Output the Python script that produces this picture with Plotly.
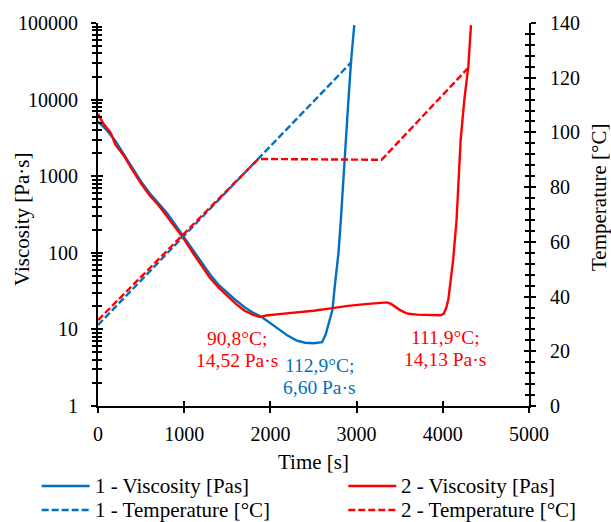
import plotly.graph_objects as go

# viscosity, sample 1
t_visc_1 = [0, 50, 100, 200, 300, 400, 500, 600, 700, 800, 900, 1000, 1100, 1200, 1300, 1400,
            1500, 1600, 1700, 1800, 1900, 2000, 2100, 2200, 2300, 2400, 2500, 2600, 2640, 2680,
            2720, 2745, 2770, 2790, 2820, 2857, 2900, 2935, 2973]
visc_1 = [5200, 4600, 4000, 2900, 1900, 1250, 850, 600, 450, 330, 230, 160, 110, 75, 52, 38,
          30, 24, 19.5, 16.5, 14.5, 12, 10, 8.3, 7.2, 6.7, 6.6, 6.8, 8.5, 12,
          18, 35, 65, 100, 300, 1630, 8000, 31000, 94000]

# viscosity, sample 2
t_visc_2 = [0, 30, 60, 100, 140, 170, 200, 250, 300, 400, 500, 600, 700, 800, 900, 1000, 1100,
            1200, 1300, 1400, 1500, 1600, 1700, 1800, 1880, 1950, 2100, 2300, 2500, 2700, 2900,
            3100, 3250, 3350, 3400, 3450, 3500, 3550, 3600, 3700, 3800, 3900, 3970, 4010, 4040,
            4065, 4090, 4120, 4160, 4207, 4250, 4296, 4327]
visc_2 = [6500, 5500, 4900, 4300, 3800, 3200, 2600, 2200, 1850, 1200, 800, 560, 420, 300, 210, 150, 100,
          68, 47, 35, 27, 21.5, 17.5, 15.5, 14.5, 15.2, 15.8, 16.6, 17.5, 18.8, 20.3,
          21.4, 22, 22.5, 21.5, 19.5, 18, 16.8, 16, 15.6, 15.4, 15.1, 15.3, 16, 19,
          25, 40, 80, 270, 2960, 10000, 27000, 94000]

# temperature programmes
t_temp_1 = [0, 2943]
temp_1 = [29.6, 125.8]
t_temp_2 = [0, 1860, 3290, 4307]
temp_2 = [31.4, 90.3, 90, 124]

# point labels: time [s], log10(viscosity), text lines
label_t = [1618, 2575, 4026]
label_logv = [0.744, 0.39, 0.757]
label_top = ["90,8°C;", "112,9°C;", "111,9°C;"]
label_bottom = ["14,52 Pa·s", "6,60 Pa·s", "14,13 Pa·s"]

series_names = ["1 - Viscosity [Pas]", "2 - Viscosity [Pas]", "1 - Temperature [°C]", "2 - Temperature [°C]"]

BLUE = "#0070C0"
RED = "#FF0000"
FONT = "Liberation Serif, Times New Roman, serif"
DASH = "7px,3px"
label_colors = [RED, BLUE, RED]

fig = go.Figure()
fig.add_trace(go.Scatter(x=t_visc_1, y=visc_1, mode="lines", name=series_names[0],
                         line=dict(color=BLUE, width=2.4)))
fig.add_trace(go.Scatter(x=t_visc_2, y=visc_2, mode="lines", name=series_names[1],
                         line=dict(color=RED, width=2.4)))
fig.add_trace(go.Scatter(x=t_temp_1, y=temp_1, mode="lines", name=series_names[2], yaxis="y2",
                         line=dict(color=BLUE, width=2.4, dash=DASH)))
fig.add_trace(go.Scatter(x=t_temp_2, y=temp_2, mode="lines", name=series_names[3], yaxis="y2",
                         line=dict(color=RED, width=2.4, dash=DASH)))
# empty traces so the inner-tick axes get drawn (crossing ticks)
fig.add_trace(go.Scatter(x=[], y=[], xaxis="x2", yaxis="y3", showlegend=False))
fig.add_trace(go.Scatter(x=[], y=[], xaxis="x2", yaxis="y4", showlegend=False))

for t, lv, top, bot, col in zip(label_t, label_logv, label_top, label_bottom, label_colors):
    fig.add_annotation(x=t, y=lv, text=top, showarrow=False, yshift=11,
                       font=dict(color=col, size=19.5, family=FONT))
    fig.add_annotation(x=t, y=lv, text=bot, showarrow=False, yshift=-11,
                       font=dict(color=col, size=19.5, family=FONT))

# axis titles (pixel placement, plot area is x 98..529, y 23..406)
W, H = 611, 522
title_kw = dict(xref="paper", yref="paper", showarrow=False, xanchor="center", yanchor="middle",
                font=dict(size=21))
fig.add_annotation(x=0.5, y=(406 - 462) / 383, text="Time [s]", **title_kw)
fig.add_annotation(x=(22 - 98) / 431, y=(406 - 220) / 383, text="Viscosity [Pa·s]",
                   textangle=-90, **title_kw)
fig.add_annotation(x=(599 - 98) / 431, y=(406 - 198) / 383, text="Temperature [°C]",
                   textangle=-90, **title_kw)

# legend drawn by hand: 2 columns x 2 rows
col_x = [41.7, 348.3]
row_y = [486, 510]
leg_colors = [BLUE, RED, BLUE, RED]
leg_dash = ["solid", "solid", DASH, DASH]
for i, name in enumerate(series_names):
    cx = col_x[i % 2]
    ry = (406 - row_y[i // 2]) / 383
    fig.add_shape(type="line", xref="paper", yref="paper",
                  x0=(cx - 98) / 431, x1=(cx + 48 - 98) / 431, y0=ry, y1=ry,
                  line=dict(color=leg_colors[i], width=2.4, dash=leg_dash[i]))
    fig.add_annotation(xref="paper", yref="paper", x=(cx + 51 - 98) / 431, y=ry, text=name,
                       xanchor="left", yanchor="middle", showarrow=False, font=dict(size=21))

tick_common = dict(ticklen=5, tickwidth=2, tickcolor="black", automargin=False)
minor_out = dict(ticks="outside", ticklen=4, tickwidth=2, tickcolor="black", showgrid=False)
minor_in = dict(ticks="inside", ticklen=4, tickwidth=2, tickcolor="black", showgrid=False)

fig.update_layout(
    width=W, height=H,
    paper_bgcolor="white", plot_bgcolor="white",
    margin=dict(l=98, r=82, t=23, b=116),
    font=dict(family=FONT, size=20, color="black"),
    showlegend=False,
    xaxis=dict(range=[0, 5000], dtick=1000, showline=True, linecolor="black", linewidth=2,
               ticks="outside", showgrid=False, zeroline=False, ticklabelstandoff=4, **tick_common),
    xaxis2=dict(range=[0, 5000], dtick=1000, overlaying="x", anchor="y", ticks="inside",
                showticklabels=False, showgrid=False, zeroline=False, showline=False, **tick_common),
    yaxis=dict(type="log", range=[0, 5], dtick=1, showline=True, linecolor="black", linewidth=2,
               ticks="outside", showgrid=False, zeroline=False, tickformat="d", ticklabelstandoff=9,
               minor=dict(dtick="D1", **minor_out), **tick_common),
    yaxis3=dict(type="log", range=[0, 5], dtick=1, overlaying="y", side="left", anchor="x2",
                ticks="inside", showticklabels=False, showgrid=False, zeroline=False, showline=False,
                minor=dict(dtick="D1", **minor_in), **tick_common),
    yaxis2=dict(range=[0, 140], dtick=20, overlaying="y", side="right", anchor="x", showline=True,
                linecolor="black", linewidth=2, ticks="outside", showgrid=False, zeroline=False,
                ticklabelstandoff=10, minor=dict(dtick=4, **minor_out), **tick_common),
    yaxis4=dict(range=[0, 140], dtick=20, overlaying="y", side="right", anchor="x2",
                ticks="inside", showticklabels=False, showgrid=False, zeroline=False, showline=False,
                minor=dict(dtick=4, **minor_in), **tick_common),
)

# the page body has a default 8px margin; drop it so the figure sits at the window corner
fig.write_html("out.html", config={"displayModeBar": False},
               post_script="document.body.style.margin='0';")
